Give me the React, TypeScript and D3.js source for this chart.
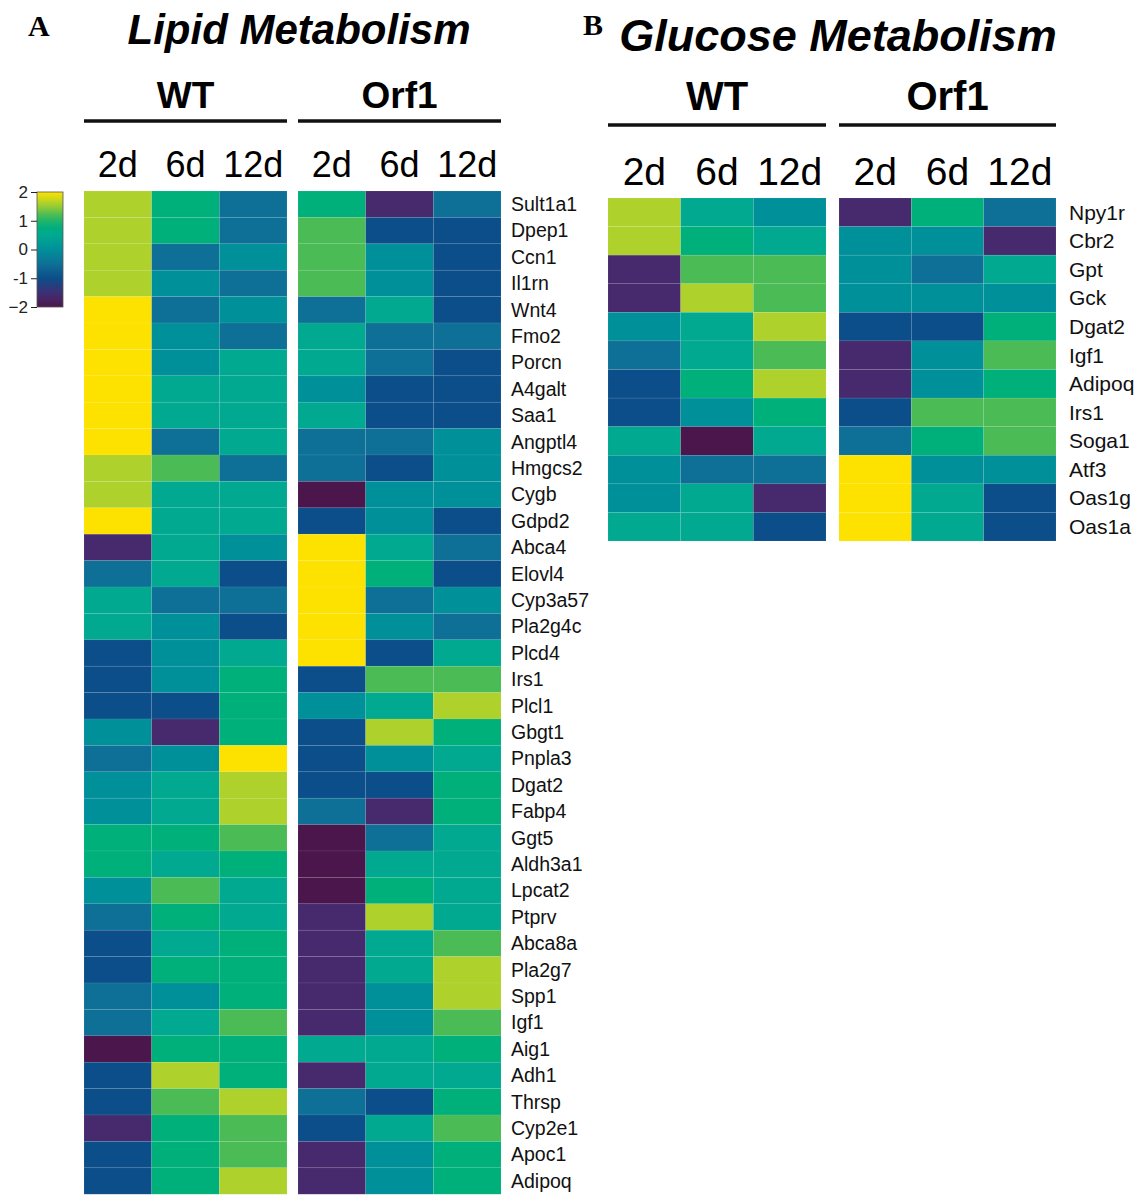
import React, { useEffect, useRef } from 'react';
import * as d3 from 'd3';

const timepoints = ['2d', '6d', '12d'];
const groups = ['WT', 'Orf1'];

const lipidGenes = [
  'Sult1a1', 'Dpep1', 'Ccn1', 'Il1rn', 'Wnt4', 'Fmo2', 'Porcn', 'A4galt', 'Saa1', 'Angptl4',
  'Hmgcs2', 'Cygb', 'Gdpd2', 'Abca4', 'Elovl4', 'Cyp3a57', 'Pla2g4c', 'Plcd4', 'Irs1', 'Plcl1',
  'Gbgt1', 'Pnpla3', 'Dgat2', 'Fabp4', 'Ggt5', 'Aldh3a1', 'Lpcat2', 'Ptprv', 'Abca8a', 'Pla2g7',
  'Spp1', 'Igf1', 'Aig1', 'Adh1', 'Thrsp', 'Cyp2e1', 'Apoc1', 'Adipoq',
];

// z-scores, columns 2d / 6d / 12d
const lipidWT = [
  [1.6, 0.85, -0.5], [1.6, 0.85, -0.5], [1.6, -0.5, 0], [1.6, 0, -0.5], [2, -0.5, 0],
  [2, 0, -0.5], [2, 0, 0.5], [2, 0.5, 0.5], [2, 0.5, 0.5], [2, -0.5, 0.5],
  [1.6, 1.2, -0.5], [1.6, 0.5, 0.5], [2, 0.5, 0.5], [-1.6, 0.5, 0], [-0.5, 0.5, -1],
  [0.5, -0.5, -0.5], [0.5, 0, -1], [-1, 0, 0.5], [-1, 0, 0.85], [-1, -1, 0.85],
  [0, -1.6, 0.85], [-0.5, 0, 2], [0, 0.5, 1.6], [0, 0.5, 1.6], [0.85, 0.85, 1.2],
  [0.85, 0.5, 0.85], [0, 1.2, 0.5], [-0.5, 0.85, 0.5], [-1, 0.5, 0.85], [-1, 0.85, 0.85],
  [-0.5, 0, 0.85], [-0.5, 0.5, 1.2], [-2, 0.85, 0.85], [-1, 1.6, 0.85], [-1, 1.2, 1.6],
  [-1.6, 0.85, 1.2], [-1, 0.85, 1.2], [-1, 0.85, 1.6],
];

const lipidOrf1 = [
  [0.85, -1.6, -0.5], [1.2, -1, -1], [1.2, 0, -1], [1.2, 0, -1], [-0.5, 0.5, -1],
  [0.5, -0.5, -0.5], [0.5, -0.5, -1], [0, -1, -1], [0.5, -1, -1], [-0.5, -0.5, 0],
  [-0.5, -1, 0], [-2, 0, 0], [-1, 0, -1], [2, 0.5, -0.5], [2, 0.85, -1],
  [2, -0.5, 0], [2, 0, -0.5], [2, -1, 0.5], [-1, 1.2, 1.2], [0, 0.5, 1.6],
  [-1, 1.6, 0.85], [-1, 0, 0.5], [-1, -1, 0.85], [-0.5, -1.6, 0.85], [-2, -0.5, 0.5],
  [-2, 0.5, 0.5], [-2, 0.85, 0.5], [-1.6, 1.6, 0.5], [-1.6, 0.5, 1.2], [-1.6, 0.5, 1.6],
  [-1.6, 0, 1.6], [-1.6, 0, 1.2], [0.5, 0.5, 0.85], [-1.6, 0.5, 0.5], [-0.5, -1, 0.85],
  [-1, 0.5, 1.2], [-1.6, 0, 0.85], [-1.6, 0, 0.85],
];

const glucoseGenes = [
  'Npy1r', 'Cbr2', 'Gpt', 'Gck', 'Dgat2', 'Igf1', 'Adipoq', 'Irs1', 'Soga1', 'Atf3', 'Oas1g', 'Oas1a',
];

const glucoseWT = [
  [1.6, 0.5, 0], [1.6, 0.85, 0.5], [-1.6, 1.2, 1.2], [-1.6, 1.6, 1.2], [0, 0.5, 1.6],
  [-0.5, 0.5, 1.2], [-1, 0.85, 1.6], [-1, 0, 0.85], [0.5, -2, 0.5], [0, -0.5, -0.5],
  [0, 0.5, -1.6], [0.5, 0.5, -1],
];

const glucoseOrf1 = [
  [-1.6, 0.85, -0.5], [0, 0, -1.6], [0, -0.5, 0.5], [0, 0, 0], [-1, -1, 0.85],
  [-1.6, 0, 1.2], [-1.6, 0, 0.85], [-1, 1.2, 1.2], [-0.5, 0.85, 1.2], [2, 0, 0],
  [2, 0.5, -1], [2, 0.5, -1],
];

const legendTicks = [2, 1, 0, -1, -2];
const legendLabels = ['2', '1', '0', '-1', '\u22122'];

const colorStops = [-2, -1.6, -1, -0.5, 0, 0.5, 0.85, 1.2, 1.6, 2];
const colorRange = ['#4a164c', '#472a6e', '#0c4e8a', '#0e7096', '#00909a', '#00a98f', '#00b07a', '#4bbb55', '#aed12b', '#fde200'];

const SANS = "'Liberation Sans', Arial, sans-serif";
const SERIF = "'Liberation Serif', 'Times New Roman', serif";

const App = () => {
  const ref = useRef(null);

  useEffect(() => {
    const svg = d3.select(ref.current);
    svg.selectAll('*').remove();

    const color = d3.scaleLinear<string>().domain(colorStops).range(colorRange).clamp(true);

    const drawPanel = (cfg) => {
      const g = svg.append('g');
      const y = d3.scaleBand().domain(cfg.genes).range([cfg.top, cfg.bottom]);

      g.append('text')
        .attr('x', cfg.letterX).attr('y', cfg.letterY)
        .attr('font-family', SERIF).attr('font-weight', 'bold').attr('font-size', 30)
        .text(cfg.letter);

      g.append('text')
        .attr('x', cfg.titleX).attr('y', cfg.titleY)
        .attr('text-anchor', 'middle')
        .attr('font-family', SANS).attr('font-weight', 'bold').attr('font-style', 'italic')
        .attr('font-size', cfg.titleSize)
        .text(cfg.title);

      groups.forEach((grp, gi) => {
        const [x0, x1] = cfg.groupX[gi];
        const x = d3.scaleBand().domain(timepoints).range([x0, x1]);
        const vals = gi === 0 ? cfg.wt : cfg.orf1;

        g.append('text')
          .attr('x', (x0 + x1) / 2).attr('y', cfg.groupY)
          .attr('text-anchor', 'middle')
          .attr('font-family', SANS).attr('font-weight', 'bold').attr('font-size', cfg.groupSize)
          .text(grp);

        g.append('line')
          .attr('x1', x0).attr('x2', x1)
          .attr('y1', cfg.lineY).attr('y2', cfg.lineY)
          .attr('stroke', '#111').attr('stroke-width', 3.5);

        g.selectAll(null)
          .data(timepoints)
          .enter()
          .append('text')
          .attr('x', d => x(d) + x.bandwidth() / 2)
          .attr('y', cfg.headY)
          .attr('text-anchor', 'middle')
          .attr('font-family', SANS).attr('font-size', cfg.headSize)
          .text(d => d);

        const cells = cfg.genes.flatMap((gene, ri) =>
          timepoints.map((tp, ci) => ({ gene, tp, v: vals[ri][ci] })));

        g.selectAll(null)
          .data(cells)
          .enter()
          .append('rect')
          .attr('x', d => x(d.tp))
          .attr('y', d => y(d.gene))
          .attr('width', x.bandwidth())
          .attr('height', y.bandwidth())
          .attr('fill', d => color(d.v))
          .attr('stroke', 'rgba(255,255,255,0.12)')
          .attr('stroke-width', 0.6);
      });

      g.selectAll(null)
        .data(cfg.genes)
        .enter()
        .append('text')
        .attr('x', cfg.labelX)
        .attr('y', d => y(d) + y.bandwidth() / 2)
        .attr('dy', '0.35em')
        .attr('font-family', SANS).attr('font-size', cfg.labelSize)
        .attr('fill', '#111')
        .text(d => d);
    };

    drawPanel({
      letter: 'A', letterX: 28, letterY: 36,
      title: 'Lipid Metabolism', titleX: 299, titleY: 44, titleSize: 42,
      groupX: [[84, 287], [298, 501]],
      groupY: 108, lineY: 121, headY: 177, groupSize: 37, headSize: 36,
      genes: lipidGenes, wt: lipidWT, orf1: lipidOrf1,
      top: 191, bottom: 191 + 38 * 26.4,
      labelX: 511, labelSize: 19.5,
    });

    drawPanel({
      letter: 'B', letterX: 583, letterY: 35,
      title: 'Glucose Metabolism', titleX: 838, titleY: 51, titleSize: 45,
      groupX: [[608, 826], [839, 1056]],
      groupY: 110, lineY: 125, headY: 185, groupSize: 40, headSize: 39,
      genes: glucoseGenes, wt: glucoseWT, orf1: glucoseOrf1,
      top: 198, bottom: 541,
      labelX: 1069, labelSize: 21,
    });

    // colour legend
    const ly = d3.scaleLinear().domain([-2, 2]).range([307, 192]);
    const defs = svg.append('defs');
    const grad = defs.append('linearGradient')
      .attr('id', 'legendGrad')
      .attr('x1', 0).attr('y1', 1).attr('x2', 0).attr('y2', 0);
    d3.range(-2, 2.01, 0.25).forEach(v => {
      grad.append('stop')
        .attr('offset', `${((v + 2) / 4) * 100}%`)
        .attr('stop-color', color(v));
    });

    const leg = svg.append('g');
    leg.append('rect')
      .attr('x', 37).attr('y', ly(2))
      .attr('width', 26).attr('height', ly(-2) - ly(2))
      .attr('fill', 'url(#legendGrad)')
      .attr('stroke', '#555').attr('stroke-width', 0.8);

    const axis = d3.axisLeft(ly)
      .tickValues(legendTicks)
      .tickSize(6)
      .tickFormat((d, i) => legendLabels[i]);

    const ax = leg.append('g')
      .attr('transform', 'translate(37,0)')
      .call(axis);
    ax.select('.domain').remove();
    ax.selectAll('line').attr('stroke', '#222');
    ax.selectAll('text')
      .attr('font-family', SANS).attr('font-size', 17).attr('fill', '#222');
  }, []);

  return (
    <svg
      ref={ref}
      width={1144}
      height={1195}
      style={{ position: 'absolute', left: 0, top: 0, background: '#fff' }}
    />
  );
};

export default App;
